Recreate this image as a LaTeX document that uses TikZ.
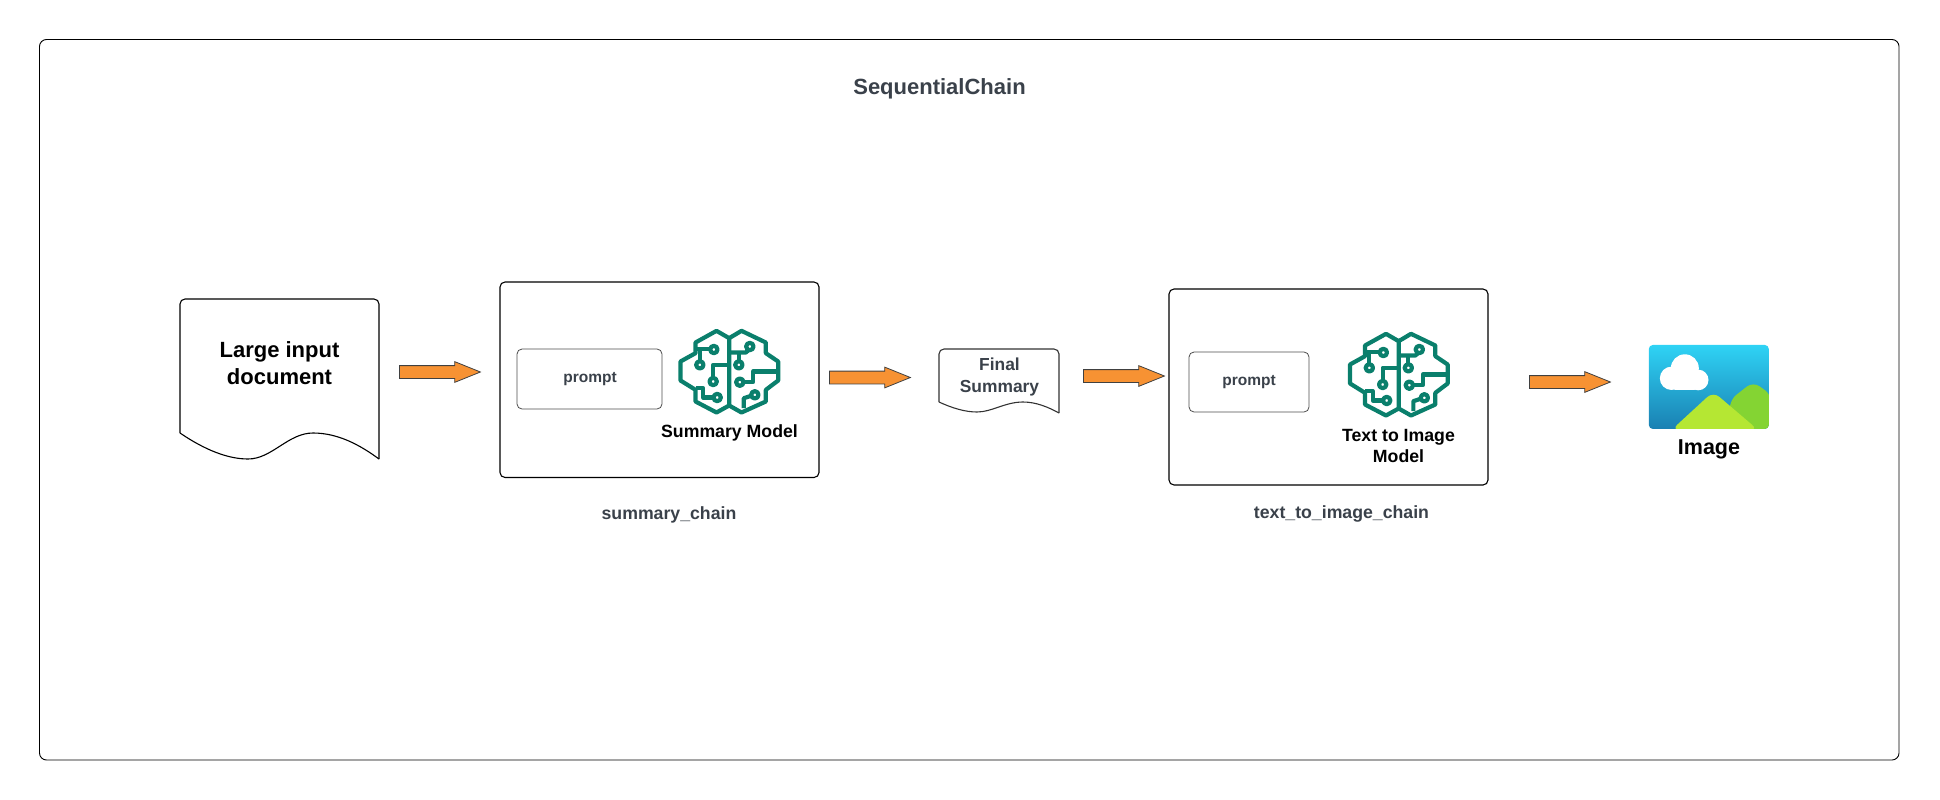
\documentclass[tikz,border=0pt]{standalone}
\usepackage{fontspec}
\setmainfont{Liberation Sans}
\usetikzlibrary{shapes.arrows}
\definecolor{inkgray}{HTML}{3A414A}
\definecolor{brainteal}{HTML}{0A7F6C}
\definecolor{arroworange}{HTML}{F79233}
\definecolor{skytop}{HTML}{2FD3F5}
\definecolor{skymid}{HTML}{27B5E0}
\definecolor{skybottom}{HTML}{1A80B2}
\definecolor{hillfront}{HTML}{B5E733}
\definecolor{hillback}{HTML}{84D433}
\tikzset{
  every node/.style={font=\bfseries, align=center, inner sep=0pt},
  frame/.style={draw=black, line width=0.9pt, rounded corners=7pt},
  chainbox/.style={draw=black, line width=1.1pt, rounded corners=5pt},
  promptbox/.style={draw=black!70, line width=0.8pt, rounded corners=5pt, minimum height=60pt},
  docline/.style={draw=black, line width=1.1pt},
  flowarrow/.style={single arrow, anchor=tail, draw=black!75, fill=arroworange, line width=0.8pt,
    inner ysep=6pt, inner xsep=0pt,
    minimum height=81pt, minimum width=20pt, single arrow head extend=4pt,
    single arrow tip angle=44},
  chainlabel/.style={font=\fontsize{17.7pt}{20pt}\selectfont\bfseries, text=inkgray},
  modellabel/.style={font=\fontsize{17.7pt}{20.5pt}\selectfont\bfseries, text=black},
  promptlabel/.style={font=\fontsize{15.5pt}{18pt}\selectfont\bfseries, text=inkgray},
  brain/.pic={
    \begin{scope}[x=0.3333pt, y=-0.3333pt, shift={(-269,-185)},
      draw=brainteal, line width=4.2pt, line join=round]
      \draw (268,85) -- (230,63) -- (167,98) -- (167,130) -- (122,155) -- (122,212)
        -- (167,240) -- (167,275) -- (230,308) -- (268,287) -- cycle;
      \draw (268,85) -- (305,63) -- (378,98) -- (378,130) -- (415,155) -- (415,212)
        -- (378,240) -- (378,275) -- (305,308) -- (268,287);
      \draw (167,117) -- (210,117) (180,117) -- (180,153);
      \draw (180,165) circle (11);
      \draw (222,119) circle (11);
      \draw (268,165) -- (220,165) -- (220,203);
      \draw (220,215) circle (11);
      \draw (167,235) -- (190,235) -- (190,263) -- (220,263);
      \draw (232,263) circle (11);
      \draw (268,128) -- (318,128) -- (325,122);
      \draw (330,110) circle (11);
      \draw (297,128) -- (297,153);
      \draw (297,165) circle (11);
      \draw (312,217) -- (340,217) -- (340,185) -- (415,185);
      \draw (300,217) circle (11);
      \draw (312,295) -- (312,265) -- (334,258);
      \draw (345,255) circle (11);
    \end{scope}
  }
}
\begin{document}
\begin{tikzpicture}[x=1pt, y=-1pt]
\useasboundingbox (0,0) rectangle (1940,800);
\draw[frame] (39.5,39.5) rectangle (1899,760);
\node[font=\fontsize{22pt}{26pt}\selectfont\bfseries, text=inkgray] (title) at (939.5,88.5) {SequentialChain};

\draw[docline, rounded corners=5pt] (180,433) -- (180,299) -- (379,299) -- (379,459);
\draw[docline] (180,433) .. controls (205,450) and (228,459) .. (248,459)
  .. controls (272,459) and (288,433) .. (313,433)
  .. controls (338,433) and (360,445) .. (379,459);
\node[font=\fontsize{22pt}{27pt}\selectfont\bfseries, text=black] (inputdoc) at (279.5,363.5) {Large input\\document};

\node[flowarrow] (arrowone) at (399,372) {};

\draw[chainbox] (500,282) rectangle (819,477.5);
\node[promptbox, minimum width=145pt] (promptone) at (589.5,379) {};
\node[promptlabel] at (590,379.5) (prompttextone) {prompt};
\pic at (729.5,371.5) {brain};
\node[modellabel] (summarymodel) at (729.5,432.5) {Summary Model};
\node[chainlabel] (summarychain) at (669,514.5) {summary\_chain};

\node[flowarrow] (arrowtwo) at (829,377.5) {};

\draw[docline, draw=black!80, rounded corners=5pt] (939,402) -- (939,349) -- (1059,349) -- (1059,413);
\draw[docline, draw=black!80] (939,402) .. controls (952,408) and (965,412) .. (977,412)
  .. controls (992,412) and (1005,402) .. (1023,402)
  .. controls (1036,402) and (1048,407) .. (1059,413);
\node[font=\fontsize{17.4pt}{22pt}\selectfont\bfseries, text=inkgray] (finalsummary) at (999.5,377) {Final\\Summary};

\node[flowarrow] (arrowthree) at (1083,376) {};

\draw[chainbox] (1169,289) rectangle (1488,485);
\node[promptbox, minimum width=120pt] (prompttwo) at (1249,382) {};
\node[promptlabel] (prompttexttwo) at (1249,382.5) {prompt};
\pic at (1399,374.5) {brain};
\node[modellabel] (imagemodel) at (1398.5,446) {Text to Image\\Model};
\node[chainlabel] (imagechain) at (1341.5,514) {text\_to\_image\_chain};

\node[flowarrow] (arrowfour) at (1529,382) {};

\begin{scope}[x=0.3333pt, y=-0.3333pt, shift={(4890,990)}]
  \shade[top color=skytop, middle color=skymid, bottom color=skybottom, rounded corners=4pt]
    (57,45) rectangle (417,297);
  \begin{scope}
    \clip[rounded corners=4pt] (57,45) rectangle (417,297);
    \fill[hillback, rounded corners=8pt] (300,300) -- (300,210) -- (370,155) -- (425,195) -- (425,300) -- cycle;
    \fill[hillfront, rounded corners=8pt] (125,300) -- (250,185) -- (385,300) -- cycle;
  \end{scope}
  \fill[white] (125,145) circle (35);
  \fill[white] (165,115) circle (42);
  \fill[white] (205,150) circle (31);
  \fill[white, rounded corners=4pt] (125,125) rectangle (205,180);
\end{scope}
\node[font=\fontsize{21.5pt}{24pt}\selectfont\bfseries, text=black] (imagelabel) at (1709,449.5) {Image};
\end{tikzpicture}
\end{document}
